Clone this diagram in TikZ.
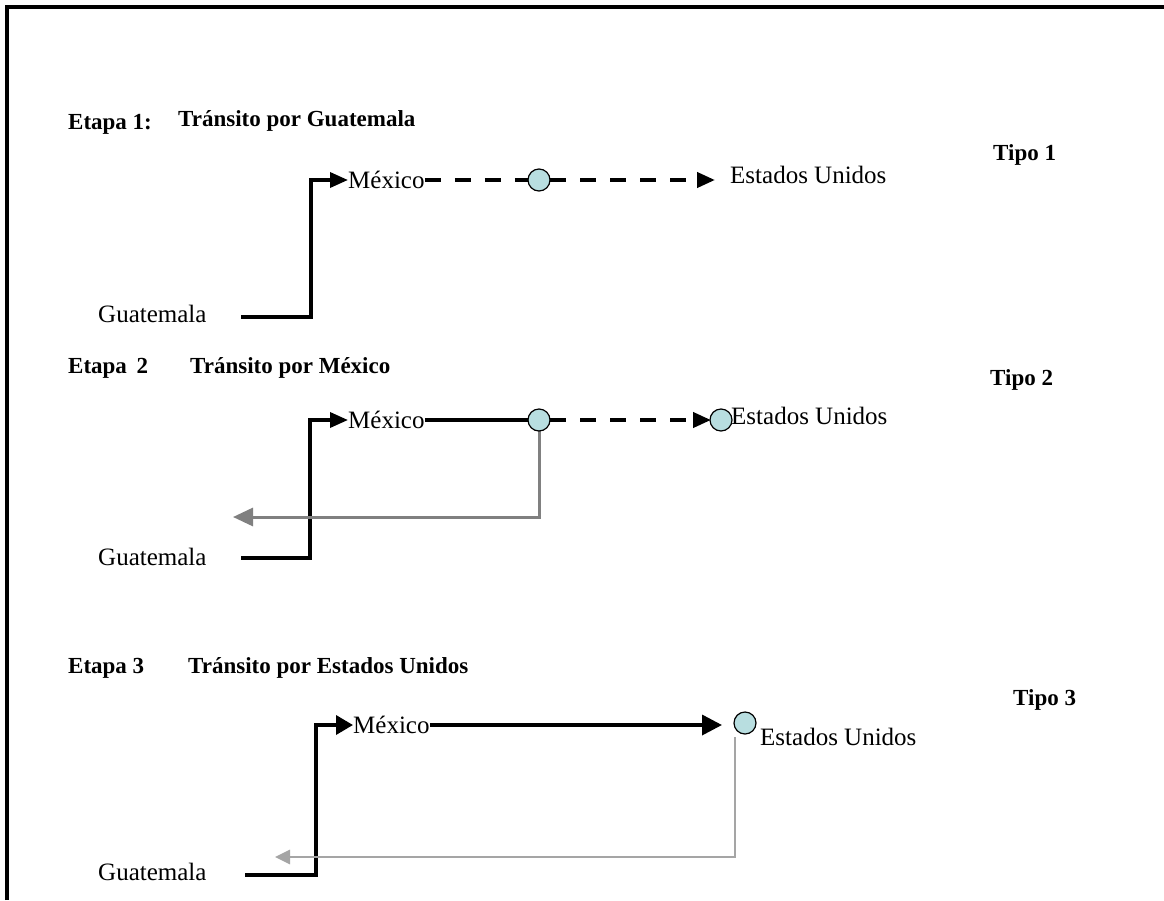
\documentclass[tikz,border=0pt]{standalone}
\usepackage{fontspec}
\setmainfont{Liberation Serif}
\usetikzlibrary{arrows.meta}
\definecolor{dotfill}{RGB}{184,222,224}
\definecolor{gryA}{RGB}{128,128,128}
\definecolor{gryB}{RGB}{165,165,165}
\begin{document}
\begin{tikzpicture}[x=1pt,y=-1pt,
  lab/.style={inner sep=0pt, font=\fontsize{25}{30}\selectfont},
  head/.style={inner sep=0pt, font=\fontsize{23}{28}\selectfont\bfseries, anchor=base west},
  dot/.style={circle, draw=black, line width=1.2pt, fill=dotfill, minimum size=22pt, inner sep=0pt},
  blk/.style={line width=3.5pt, draw=black},
  dsh/.style={line width=4pt, draw=black, dash pattern=on 16pt off 14pt},
  tipA/.style={-{Triangle[length=18pt,width=15pt]}},
  tipB/.style={-{Triangle[length=17pt,width=19pt]}},
  tipC/.style={-{Triangle[length=20pt,width=20pt]}},
  grayA/.style={line width=3pt, draw=gryA, -{Triangle[length=20pt,width=18pt]}},
  grayB/.style={line width=2.7pt, draw=gryB, -{Triangle[length=15pt,width=14pt]}}
]
\useasboundingbox (0,0) rectangle (1164,900);
\fill[white] (0,0) rectangle (1164,900);
% frame
\draw[line width=3.5pt] (7,900) -- (7,7) -- (1164,7);

% ---------- Row 1 ----------
\node[head] (e1) at (68,129) {Etapa 1:};
\node[head] (h1) at (178,126) {Tránsito por Guatemala};
\node[head] (p1) at (993,160) {Tipo 1};
\node[lab,anchor=base west] (g1) at (98,322) {Guatemala};
\coordinate (s1) at (241,317);
\node[lab,anchor=west] (m1) at (348,180) {México};
\coordinate (t1) at (715,180);
\node[lab,anchor=base west] (u1) at (730,183) {Estados Unidos};
\draw[blk,tipA] (s1) -| (311,180) -- (m1.west);
\draw[dsh] (m1.east) -- (539,180);
\draw[dsh,tipA] (550,180) -- (t1);
\node[dot] (c1) at (539,180) {};

% ---------- Row 2 ----------
\node[head] (e2) at (68,373) {Etapa\,\ 2};
\node[head] (h2) at (190,373) {Tránsito por México};
\node[head] (p2) at (990,385) {Tipo 2};
\node[lab,anchor=base west] (g2) at (98,565) {Guatemala};
\coordinate (s2) at (241,558);
\node[lab,anchor=west] (m2) at (348,420) {México};
\node[lab,anchor=base west] (u2) at (731,424) {Estados Unidos};
\coordinate (r2) at (233,517);
\draw[blk,tipA] (s2) -| (310,420) -- (m2.west);
\draw[blk] (m2.east) -- (539,420);
\draw[dsh,tipA] (550,420) -- (711,420);
\draw[grayA] (539,428) |- (r2);
\node[dot] (c2) at (539,420) {};
\node[dot] (c2b) at (721,420) {};

% ---------- Row 3 ----------
\node[head] (e3) at (68,673) {Etapa 3};
\node[head] (h3) at (188,673) {Tránsito por Estados Unidos};
\node[head] (p3) at (1013,705) {Tipo 3};
\node[lab,anchor=base west] (g3) at (98,880) {Guatemala};
\coordinate (s3) at (245,875);
\node[lab,anchor=west] (m3) at (353,725) {México};
\coordinate (t3) at (722,725);
\node[dot] (c3) at (745,723) {};
\node[lab,anchor=base west] (u3) at (760,745) {Estados Unidos};
\coordinate (q3) at (735,737);
\coordinate (r3) at (275,857);
\draw[blk,tipB] (s3) -| (316,725) -- (m3.west);
\draw[blk,tipC] (m3.east) -- (t3);
\draw[grayB] (q3) |- (r3);
\end{tikzpicture}
\end{document}
